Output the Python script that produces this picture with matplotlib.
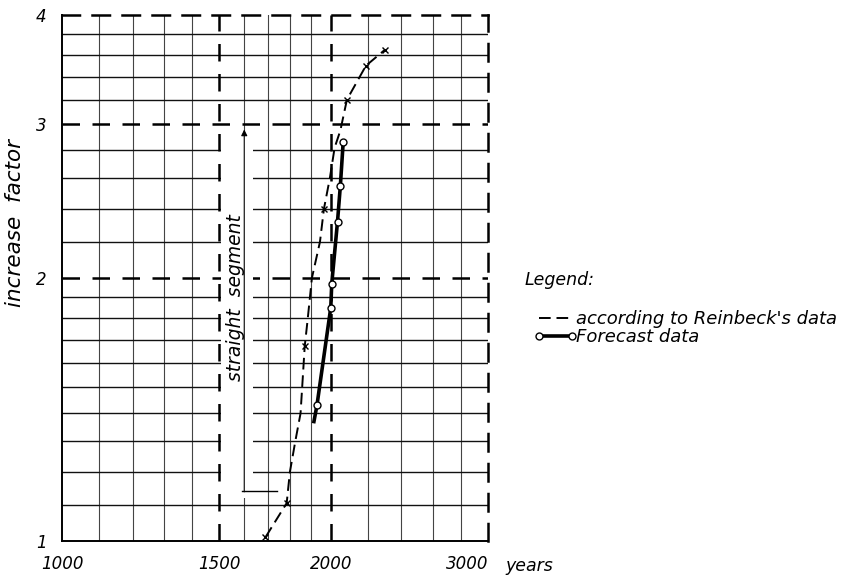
import numpy as np
import matplotlib
matplotlib.use("Agg")
import matplotlib.pyplot as plt
from matplotlib.ticker import NullLocator

# Reinbeck's data (dashed curve)
reinbeck_years = [1690, 1785, 1800, 1825, 1850, 1870, 1885, 1905, 1945, 1965, 1995, 2020, 2050, 2085, 2190, 2300]
reinbeck_factor = [1.01, 1.105, 1.2, 1.3, 1.4, 1.67, 1.8, 2.0, 2.2, 2.4, 2.6, 2.82, 2.95, 3.2, 3.5, 3.65]
reinbeck_marked = [0, 1, 5, 9, 13, 14, 15]   # points with an x on them

# forecast data (thick line with circles)
forecast_years = [1915, 1930, 2000, 2005, 2035, 2050, 2065]
forecast_factor = [1.37, 1.43, 1.85, 1.97, 2.32, 2.55, 2.86]

# grid of the log-log paper
x_major = [1500, 2000]
x_minor = [1100, 1200, 1300, 1400, 1600, 1700, 1800, 1900, 2200, 2400, 2600, 2800]
y_major = [2, 3]
y_minor = [1.1, 1.2, 1.3, 1.4, 1.5, 1.6, 1.7, 1.8, 1.9, 2.2, 2.4, 2.6, 2.8, 3.2, 3.4, 3.6, 3.8]
x_ticks = [1000, 1500, 2000, 3000]
y_ticks = [1, 2, 3, 4]

plt.rcParams['font.family'] = 'DejaVu Sans'
plt.rcParams['font.style'] = 'italic'

fig = plt.figure(figsize=(8.5, 5.82), dpi=100)
ax = fig.add_axes([62/850, 41/582, 426/850, 526/582])
ax.set_xscale('log')
ax.set_yscale('log')
ax.set_xlim(1000, 3000)
ax.set_ylim(1, 4)

dash = (0, (7, 5))
for x in x_minor:
    ax.axvline(x, color='#444444', lw=0.8, zorder=1)
for y in y_minor:
    ax.axhline(y, color='#111111', lw=1.0, zorder=1)
for x in x_major:
    ax.axvline(x, color='k', lw=1.8, ls=dash, zorder=1)
for y in y_major:
    ax.axhline(y, color='k', lw=1.8, ls=dash, zorder=1)

ax.spines['left'].set_linewidth(1.4)
ax.spines['bottom'].set_linewidth(1.4)
for s in ['top', 'right']:
    ax.spines[s].set_linewidth(1.8)
    ax.spines[s].set_linestyle(dash)

ax.xaxis.set_minor_locator(NullLocator())
ax.yaxis.set_minor_locator(NullLocator())
ax.set_xticks(x_ticks, labels=[str(v) for v in x_ticks])
ax.set_yticks(y_ticks, labels=[str(v) for v in y_ticks])
ax.tick_params(length=0, labelsize=12, pad=10)
ax.tick_params(axis='y', pad=11)
ax.get_xticklabels()[-1].set_ha('right')

# white gap behind the "straight segment" note
ax.fill_between([1506, 1635], 1.12, 2.93, color='white', zorder=2, lw=0)
ax.annotate('', xy=(1600, 2.98), xytext=(1600, 1.13),
            arrowprops=dict(arrowstyle='-|>', lw=0.8, color='k', mutation_scale=9),
            zorder=3)
ax.plot([1590, 1740], [1.14, 1.14], color='k', lw=1.0, zorder=3)
ax.text(1565, 1.9, 'straight  segment', rotation=90, ha='center', va='center',
        fontsize=13.5, zorder=3)

# curves
l1, = ax.plot(reinbeck_years, reinbeck_factor, color='k', lw=1.4, ls=(0, (6, 3)),
              zorder=4, label="according to Reinbeck's data")
ax.plot([reinbeck_years[i] for i in reinbeck_marked],
        [reinbeck_factor[i] for i in reinbeck_marked],
        ls='none', marker='x', ms=5, mew=1.0, color='k', zorder=4)
l2, = ax.plot(forecast_years, forecast_factor, color='k', lw=2.6, zorder=5,
              marker='o', ms=5, mfc='white', mec='k', mew=1.0, markevery=range(1, 7),
              label='Forecast data')

ax.set_ylabel('increase  factor', fontsize=15.5)
ax.yaxis.set_label_coords(-0.088, 0.605)
fig.text(505/850, 1 - 566/582, 'years', fontsize=12.5, va='center')

fig.text(525/850, 1 - 280/582, 'Legend:', fontsize=12.5, va='center')
ax.legend(handles=[l1, l2], loc='upper left', bbox_to_anchor=(525/850, 1 - 301/582),
          bbox_transform=fig.transFigure, frameon=False, fontsize=13,
          handlelength=2.4, handletextpad=-0.1, labelspacing=0.02, numpoints=2,
          borderpad=0)

fig.savefig('out.png', dpi=100)
